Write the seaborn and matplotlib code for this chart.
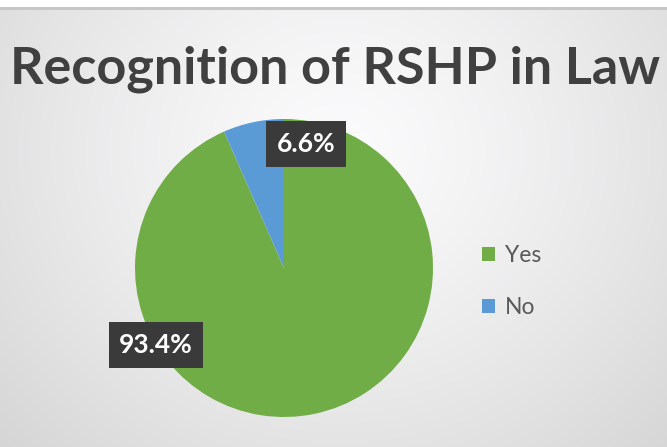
import numpy as np
import matplotlib
matplotlib.use("Agg")
import matplotlib.pyplot as plt
import seaborn as sns
from matplotlib.patches import Rectangle

categories = ["Yes", "No"]
values = [93.4, 6.6]
value_labels = ["93.4%", "6.6%"]
colors = ["#70AD47", "#5B9BD5"]
title = "Recognition of RSHP in Law"

sns.set_style("white")
plt.rcParams["font.family"] = ["Lato", "DejaVu Sans"]

W, H = 667, 447
fig = plt.figure(figsize=(W / 100, H / 100), dpi=100)

# background gradient
bg = fig.add_axes([0, 0, 1, 1])
yy, xx = np.mgrid[0:H, 0:W]
d = np.sqrt(((xx - 340) / 1.1) ** 2 + ((yy - 150) / 1.0) ** 2)
t = np.clip(d / 430, 0, 1)
lum = 0.985 - 0.15 * t ** 1.3
img = np.dstack([lum, lum, lum * 1.005])
img = np.clip(img, 0, 1)
img[0:7, :, :] = 1.0
img[7:10, :, :] = 0.78
bg.imshow(img, aspect="auto", extent=[0, W, H, 0])
bg.set_xlim(0, W)
bg.set_ylim(H, 0)
bg.axis("off")

fig.text(0.502, 0.845, title, ha="center", va="center", fontsize=37.5,
         fontweight="bold", color="#404040")

ax = fig.add_axes([0.2024, 0.0671, 0.4468, 0.6667])
ax.set_facecolor("none")
wedges, _ = ax.pie(values, colors=colors, startangle=90, counterclock=False,
                   wedgeprops=dict(linewidth=0))
ax.set_xlim(-1, 1)
ax.set_ylim(-1, 1)
ax.set_aspect("equal")
ax.axis("off")

label_pos = [(-0.859, -0.517), (0.148, 0.832)]
for (lx, ly), txt in zip(label_pos, value_labels):
    ax.text(lx, ly, txt, ha="center", va="center", fontsize=19,
            fontweight="bold", color="white", zorder=5,
            bbox=dict(boxstyle="square,pad=0.4", fc="#3a3a3a", ec="none"))

handles = [Rectangle((0, 0), 1, 1, fc=c, ec="none") for c in colors]
leg = fig.legend(handles, categories, loc="center left",
                 bbox_to_anchor=(0.692, 0.37), frameon=False, fontsize=16.5,
                 handlelength=0.55, handleheight=0.55, handletextpad=0.45,
                 labelspacing=1.35, labelcolor="#595959")

fig.savefig("out.png", dpi=100)
